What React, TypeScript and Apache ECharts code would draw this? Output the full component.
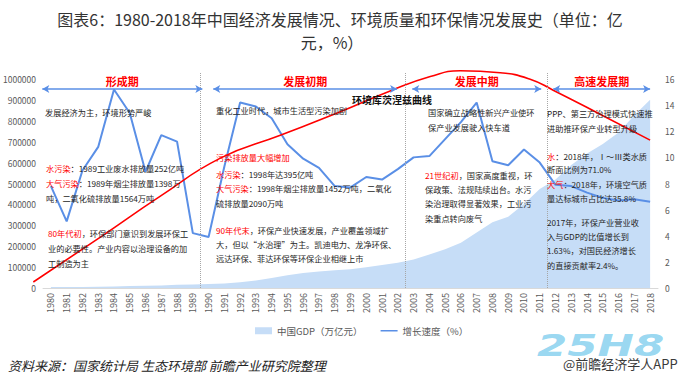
import React, { useEffect, useRef } from "react";
import * as echarts from "echarts";

const years = ["1980","1981","1982","1983","1984","1985","1986","1987","1988","1989","1990","1991","1992","1993","1994","1995","1996","1997","1998","1999","2000","2001","2002","2003","2004","2005","2006","2007","2008","2009","2010","2011","2012","2013","2014","2015","2016","2017","2018"];

// 中国GDP（亿元）
const gdp = [4546, 4892, 5323, 5963, 7208, 9016, 10275, 12059, 15043, 16992, 18668, 21781, 26923, 35334, 48198, 60794, 71177, 78973, 84402, 89677, 99215, 109655, 120333, 135823, 159878, 184937, 216314, 265810, 314045, 340903, 401513, 473104, 519470, 588019, 643974, 689052, 744127, 827122, 900309];

// 增长速度（%）
const growth = [7.8, 5.1, 9.0, 10.8, 15.2, 13.4, 8.9, 11.7, 11.2, 4.2, 3.9, 9.3, 14.2, 13.9, 13.0, 11.0, 9.9, 9.2, 7.8, 7.7, 8.5, 8.3, 9.1, 10.0, 10.1, 11.4, 12.7, 14.2, 9.7, 9.4, 10.6, 9.6, 7.9, 7.8, 7.3, 6.9, 6.7, 6.8, 6.6];

// 环境库茨涅兹曲线 (schematic)
const kuznetsX = [1978.92, 1983.17, 1986.97, 1990.77, 1994.57, 1998.37, 2001.53, 2004.07, 2005.97, 2008.5, 2010.4, 2011.86, 2014.83, 2018.0];
const kuznetsY = [0.46, 3.9, 7.04, 9.95, 11.71, 13.5, 15.1, 16.2, 16.65, 16.5, 16.0, 15.16, 13.32, 11.33];

const separators = [1989.5, 2002.5, 2011.5];
const periods = ["形成期", "发展初期", "发展中期", "高速发展期"];
const periodStart = [1979.49, 1990.32, 2002.93, 2011.86];
const periodEnd = [1989.63, 2001.97, 2011.1, 2018.0];

const leftTicks = { min: 0, max: 1000000, interval: 100000 };
const rightTicks = { min: 0, max: 16, interval: 2 };

const FONT = "'Noto Sans CJK SC', 'Noto Sans', sans-serif";
const RED = "#FF0000";
const BLUE = "#5A8FE6";
const AREA = "#C6DDF7";
const AFS = 8.2;

// annotation layout: [x, centerY, text]
const notes: [number, number, string][] = [
  [45, 112, "发展经济为主，环境形势严峻"],
  [46, 168, "{r|水污染}：1989工业废水排放量252亿吨"],
  [46, 183, "{r|大气污染}：1989年烟尘排放量1398万"],
  [46, 198, "吨，二氧化硫排放量1564万吨"],
  [48, 233, "{r|80年代初}，环保部门意识到发展环保工"],
  [48, 248, "业的必要性。产业内容以治理设备的加"],
  [48, 263, "工制造为主"],
  [216, 110, "重化工业时代，城市生活型污染加剧"],
  [216, 157, "{r|污染排放量大幅增加}"],
  [216, 174, "{r|水污染}：1998年达395亿吨"],
  [216, 188, "{r|大气污染}：1998年烟尘排放量1452万吨，二氧化"],
  [216, 203, "硫排放量2090万吨"],
  [216, 230, "{r|90年代末}，环保产业快速发展，产业覆盖领域扩"],
  [216, 244, "大，但以“水治理”为主。凯迪电力、龙净环保、"],
  [216, 258, "远达环保、菲达环保等环保企业相继上市"],
  [428, 112, "国家确立战略性新兴产业使环"],
  [428, 127, "保产业发展驶入快车道"],
  [425, 175, "{r|21世纪初}，国家高度重视，环"],
  [425, 189, "保政策、法规陆续出台。水污"],
  [425, 203, "染治理取得显著效果，工业污"],
  [425, 218, "染重点转向废气"],
  [547, 113, "PPP、第三方治理模式快速推"],
  [547, 128, "进助推环保产业转型升级"],
  [547, 156, "{r|水}：2018年，Ⅰ～Ⅲ类水质"],
  [547, 169, "断面比例为71.0%"],
  [547, 184, "{r|大气}：2018年，环境空气质"],
  [547, 198, "量达标城市占比达35.8%"],
  [547, 222, "2017年，环保产业营业收"],
  [547, 236, "入与GDP的比值增长到"],
  [547, 250, "1.63%，对国民经济增长"],
  [547, 265, "的直接贡献率2.4%。"],
];

function buildOption() {
  const noteGraphics = notes.map(([x, y, t]) => ({
    type: "text",
    x,
    y,
    silent: true,
    z: 10,
    style: {
      text: t,
      fill: "#262626",
      fontSize: AFS,
      fontFamily: FONT,
      verticalAlign: "middle",
      rich: { r: { fill: RED, color: RED, fontSize: AFS, fontFamily: FONT } },
    },
  }));

  return {
    animation: false,
    backgroundColor: "#fff",
    legend: {
      left: 250,
      top: 321,
      itemWidth: 17,
      itemHeight: 7,
      itemGap: 18,
      textStyle: { fontSize: 9.5, color: "#595959", fontFamily: FONT },
      data: [
        { name: "中国GDP（万亿元）", icon: "rect", itemStyle: { color: AREA } },
        {
          name: "增长速度（%）",
          icon: "path://M0,0L0.01,0L0.01,0.01Z M0,2.6L20,2.6L20,4.4L0,4.4Z M0,7L0.01,7L0.01,6.99Z",
          itemStyle: { color: BLUE },
        },
      ],
    },
    grid: [
      { left: 42, right: 22, top: 79, bottom: 96 },
      { left: 33, right: 22, top: 27, bottom: 96 },
    ],
    xAxis: [
      {
        type: "category",
        gridIndex: 0,
        data: years,
        boundaryGap: true,
        axisTick: { show: false },
        axisLine: { lineStyle: { color: "#D9D9D9" } },
        axisLabel: { rotate: 90, interval: 0, fontSize: 9, color: "#595959", margin: 5, fontFamily: FONT },
      },
      { type: "value", gridIndex: 1, min: 1978.9, max: 2018.5, show: false },
    ],
    yAxis: [
      {
        type: "value",
        gridIndex: 0,
        ...leftTicks,
        splitLine: { show: false },
        axisLine: { show: false },
        axisTick: { show: false },
        axisLabel: { fontSize: 8.5, color: "#595959", margin: 7, fontFamily: FONT, formatter: (v: number) => String(v) },
      },
      {
        type: "value",
        gridIndex: 0,
        position: "right",
        ...rightTicks,
        splitLine: { show: false },
        axisLine: { show: false },
        axisTick: { show: false },
        axisLabel: { fontSize: 8.5, color: "#595959", margin: 7, fontFamily: FONT },
      },
      { type: "value", gridIndex: 1, min: 0, max: 20, show: false },
    ],
    series: [
      {
        name: "中国GDP（万亿元）",
        type: "line",
        xAxisIndex: 0,
        yAxisIndex: 0,
        data: gdp,
        symbol: "none",
        itemStyle: { color: AREA },
        lineStyle: { width: 0, color: AREA },
        areaStyle: { color: AREA, opacity: 1 },
        z: 1,
      },
      {
        name: "增长速度（%）",
        type: "line",
        xAxisIndex: 0,
        yAxisIndex: 1,
        data: growth,
        symbol: "none",
        itemStyle: { color: BLUE },
        lineStyle: { width: 2, color: BLUE },
        z: 3,
      },
      {
        name: "环境库茨涅兹曲线",
        type: "line",
        xAxisIndex: 1,
        yAxisIndex: 2,
        data: kuznetsX.map((x, i) => [x, kuznetsY[i]]),
        smooth: true,
        symbol: "none",
        lineStyle: { width: 1.6, color: RED },
        itemStyle: { color: RED },
        z: 4,
        silent: true,
      },
      {
        name: "sep",
        type: "line",
        xAxisIndex: 1,
        yAxisIndex: 2,
        data: [],
        silent: true,
        markLine: {
          silent: true,
          symbol: "none",
          label: { show: false },
          lineStyle: { type: "dotted", color: "#A6A6A6", width: 1 },
          emphasis: { disabled: true },
          data: separators.map((x) => [{ coord: [x, 0] }, { coord: [x, 16.5] }]),
        },
      },
      {
        name: "periods",
        type: "line",
        xAxisIndex: 1,
        yAxisIndex: 2,
        data: [],
        silent: true,
        markLine: {
          silent: true,
          symbol: ["arrow", "arrow"],
          symbolSize: [6, 7],
          lineStyle: { type: "solid", color: BLUE, width: 1.5 },
          emphasis: { disabled: true },
          label: {
            show: true,
            formatter: "{b}",
            position: "insideMiddleTop",
            distance: 3,
            color: RED,
            fontSize: 11,
            fontWeight: "bold",
            fontFamily: FONT,
          },
          data: periods.map((p, i) => [
            { name: p, coord: [periodStart[i], 15.25] },
            { coord: [periodEnd[i], 15.25] },
          ]),
        },
      },
    ],
    graphic: [
      {
        type: "text",
        x: 340,
        y: 18.5,
        silent: true,
        style: { text: "图表6：1980-2018年中国经济发展情况、环境质量和环保情况发展史（单位：亿", fill: "#333", fontSize: 16, fontFamily: FONT, align: "center", verticalAlign: "middle" },
      },
      {
        type: "text",
        x: 332,
        y: 41.5,
        silent: true,
        style: { text: "元，%）", fill: "#333", fontSize: 16, fontFamily: FONT, align: "center", verticalAlign: "middle" },
      },
      ...noteGraphics,
      {
        type: "text",
        x: 352,
        y: 99,
        silent: true,
        z: 10,
        style: { text: "环境库茨涅兹曲线", fill: "#111", fontSize: 10, fontWeight: "bold", fontFamily: FONT, verticalAlign: "middle" },
      },
      {
        type: "text",
        x: 8,
        y: 365,
        silent: true,
        style: { text: "资料来源：国家统计局 生态环境部 前瞻产业研究院整理", fill: "#222", fontSize: 13, fontStyle: "italic", fontFamily: FONT, verticalAlign: "middle" },
      },
      {
        type: "text",
        x: 537,
        y: 346,
        scaleX: 1.45,
        silent: true,
        style: { text: "25H8", fill: "#8DD3EF", fontSize: 30, fontWeight: "bold", fontStyle: "italic", fontFamily: "'DejaVu Sans', sans-serif", verticalAlign: "middle", opacity: 0.9 },
      },
      {
        type: "text",
        x: 563,
        y: 363,
        silent: true,
        z: 11,
        style: { text: "@前瞻经济学人APP", fill: "#3a3a3a", fontSize: 13, fontFamily: FONT, verticalAlign: "middle" },
      },
    ],
  };
}

export default function App() {
  const ref = useRef<HTMLDivElement>(null);
  useEffect(() => {
    document.body.style.margin = "0";
    const chart = echarts.init(ref.current as HTMLDivElement, null, { renderer: "svg" });
    chart.setOption(buildOption() as any);
    return () => chart.dispose();
  }, []);
  return <div ref={ref} style={{ width: 680, height: 384, background: "#fff" }} />;
}
